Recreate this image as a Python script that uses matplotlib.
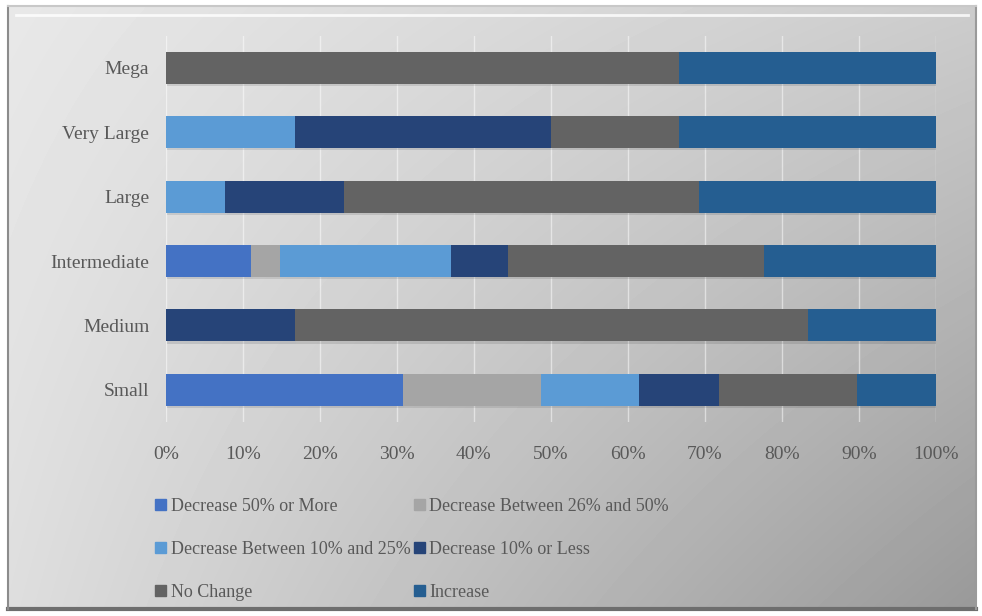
import numpy as np
import matplotlib
matplotlib.use("Agg")
import matplotlib.pyplot as plt
from matplotlib.patches import Patch
import matplotlib.patheffects as pe

plt.rcParams['font.family'] = ['Liberation Serif', 'DejaVu Serif']

categories = ["Small", "Medium", "Intermediate", "Large", "Very Large", "Mega"]
series = ["Decrease 50% or More", "Decrease Between 26% and 50%",
          "Decrease Between 10% and 25%", "Decrease 10% or Less",
          "No Change", "Increase"]
colors = ["#4472C4", "#A5A5A5", "#5B9BD5", "#264478", "#636363", "#255E91"]

# shares per size class (percent)
dec50 = [30.8, 0, 11.1, 0, 0, 0]
dec26_50 = [17.9, 0, 3.7, 0, 0, 0]
dec10_25 = [12.8, 0, 22.2, 7.7, 16.7, 0]
dec10 = [10.3, 16.7, 7.4, 15.4, 33.3, 0]
no_change = [17.9, 66.7, 33.3, 46.2, 16.7, 66.7]
increase = [10.3, 16.6, 22.3, 30.8, 33.3, 33.3]
values = [dec50, dec26_50, dec10_25, dec10, no_change, increase]

fig = plt.figure(figsize=(9.82, 6.16), dpi=100)
fig.patch.set_facecolor("white")

# gradient background with bevelled frame
bg = fig.add_axes([0, 0, 1, 1], zorder=-10)
bg.set_xlim(0, 1)
bg.set_ylim(0, 1)
bg.axis("off")
xx, dd = np.meshgrid(np.linspace(0, 1, 300), np.linspace(0, 1, 200))
grad = 0.91 - 0.11 * xx - 0.04 * dd - 0.16 * xx * dd
bg.imshow(grad, cmap="gray", vmin=0, vmax=1, extent=[0.008, 0.994, 0.01, 0.99],
          origin="upper", aspect="auto", interpolation="bicubic")
bg.plot([0.008, 0.994], [0.012, 0.012], color="#6e6e6e", lw=3)
bg.plot([0.994, 0.994], [0.012, 0.99], color="#9a9a9a", lw=1.5)
bg.plot([0.008, 0.008], [0.012, 0.99], color="#8c8c8c", lw=1.5)
bg.plot([0.008, 0.994], [0.99, 0.99], color="#c8c8c8", lw=1.5)
bg.plot([0.016, 0.986], [0.975, 0.975], color="white", lw=2, alpha=0.8)

ax = fig.add_axes([0.169, 0.315, 0.784, 0.627])
ax.patch.set_alpha(0)
y = np.arange(len(categories))
left = np.zeros(len(categories))
handles = []
for name, vals, c in zip(series, values, colors):
    vals = np.array(vals)
    bars = ax.barh(y, vals, left=left, height=0.5, color=c, zorder=3)
    for b in bars:
        b.set_path_effects([pe.SimplePatchShadow(offset=(1, -1.5), alpha=0.12), pe.Normal()])
    left += vals
    handles.append(Patch(color=c, label=name))

ax.set_xlim(0, 100)
ax.set_ylim(-0.5, len(categories) - 0.5)
ax.set_yticks(y)
ax.set_yticklabels(categories)
ax.set_xticks(np.arange(0, 101, 10))
ax.set_xticklabels([f"{v}%" for v in range(0, 101, 10)])
ax.tick_params(length=0, labelsize=14, colors="#595959", pad=12)
ax.tick_params(axis="x", pad=17)
ax.grid(axis="x", color="white", alpha=0.5, lw=1, zorder=0)
for s in ax.spines.values():
    s.set_visible(False)

order = [0, 2, 4, 1, 3, 5]
leg = fig.legend([handles[i] for i in order], [series[i] for i in order],
                 ncol=2, loc="upper left", bbox_to_anchor=(0.158, 0.192),
                 frameon=False, fontsize=13, handlelength=0.6, handleheight=0.6,
                 handletextpad=0.25, columnspacing=0.2, labelspacing=1.45,
                 borderaxespad=0, borderpad=0)
for t in leg.get_texts():
    t.set_color("#595959")

fig.savefig("out.png", dpi=100)
